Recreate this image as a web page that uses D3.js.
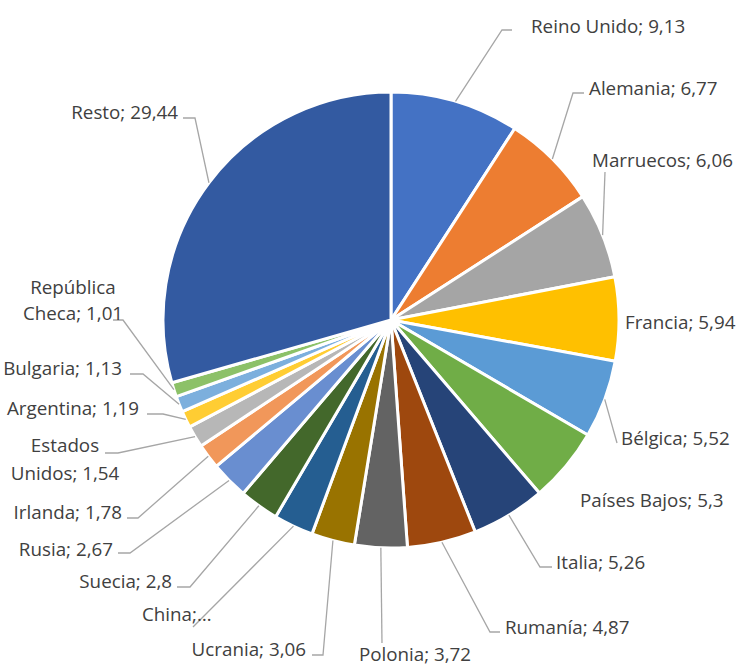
<!DOCTYPE html>
<html>
<head>
<meta charset="utf-8">
<script src="https://cdn.jsdelivr.net/npm/d3@7"></script>
<style>
  html, body { margin: 0; padding: 0; background: #fff; }
  svg { display: block; }
  text { font-family: "Open Sans", "Noto Sans", sans-serif; font-size: 18.8px; fill: #404040; }
</style>
</head>
<body>
<svg id="chart" width="739" height="668"></svg>
<script>
// ---- data ----
const categories = ["Reino Unido", "Alemania", "Marruecos", "Francia", "Bélgica", "Países Bajos",
  "Italia", "Rumanía", "Polonia", "Ucrania", "China", "Suecia", "Rusia", "Irlanda",
  "Estados Unidos", "Argentina", "Bulgaria", "República Checa", "Resto"];
const values = [9.13, 6.77, 6.06, 5.94, 5.52, 5.3, 5.26, 4.87, 3.72, 3.06, 2.81, 2.8, 2.67, 1.78,
  1.54, 1.19, 1.13, 1.01, 29.44];
const labelLines = [
  ["Reino Unido; 9,13"], ["Alemania; 6,77"], ["Marruecos; 6,06"], ["Francia; 5,94"],
  ["Bélgica; 5,52"], ["Países Bajos; 5,3"], ["Italia; 5,26"], ["Rumanía; 4,87"],
  ["Polonia; 3,72"], ["Ucrania; 3,06"], ["China;…"], ["Suecia; 2,8"], ["Rusia; 2,67"],
  ["Irlanda; 1,78"], ["Estados", "Unidos; 1,54"], ["Argentina; 1,19"], ["Bulgaria; 1,13"],
  ["República", "Checa; 1,01"], ["Resto; 29,44"]];
const colors = ["#4472C4", "#ED7D31", "#A5A5A5", "#FFC000", "#5B9BD5", "#70AD47", "#264478",
  "#9E480E", "#636363", "#997300", "#255E91", "#43682B", "#698ED0", "#F1975A", "#B7B7B7",
  "#FFCD33", "#7CAFDD", "#8CC168", "#335AA1"];

// ---- layout (label placement, Excel-style) ----
// [anchor, x, yCenters, elbow or null, horizontal-end x or null]
const labelLayout = [
  ["start", 531, [26], [502, 30], 512],
  ["start", 589, [88], [573, 93], 584],
  ["start", 592, [160], [605, 172], null],
  ["start", 625, [322], null, null],
  ["start", 621, [438], [617, 443], null],
  ["start", 580, [500], null, null],
  ["start", 556, [562], [540, 567], 552],
  ["start", 505, [627], [490, 632], 500],
  ["middle", 415, [654], [382, 643], null],
  ["end", 306, [649], [323, 655], 312],
  ["start", 142, [614], [193, 627], null],
  ["end", 172, [581], [190, 587], 177],
  ["end", 113, [549], [130, 553], 118],
  ["end", 122, [512], [138, 518], 127],
  ["middle", 65, [445, 473], [118, 453], 105],
  ["end", 139, [408], [163, 414], 147],
  ["end", 122, [368], [143, 374], 130],
  ["middle", 73, [287, 313], [123, 320], 113],
  ["end", 178, [112], [195, 118], 183]
];

const cx = 391, cy = 320, R = 228;
const svg = d3.select("#chart");
const g = svg.append("g").attr("transform", `translate(${cx},${cy})`);

const data = categories.map((c, i) => ({ name: c, value: values[i], i }));
const pie = d3.pie().value(d => d.value).sort(null);
const arcs = pie(data);
const arc = d3.arc().innerRadius(0).outerRadius(R);

g.selectAll("path.slice").data(arcs).join("path")
  .attr("class", "slice")
  .attr("d", arc)
  .attr("fill", d => colors[d.data.i])
  .attr("stroke", "#fff")
  .attr("stroke-width", 3)
  .attr("stroke-linejoin", "round");

// leader lines
const lead = svg.append("g");
arcs.forEach(d => {
  const L = labelLayout[d.data.i];
  if (!L[3]) return;
  const mid = (d.startAngle + d.endAngle) / 2;
  const p0 = [cx + R * Math.sin(mid), cy - R * Math.cos(mid)];
  const pts = [p0, L[3]];
  if (L[4] !== null) pts.push([L[4], L[3][1]]);
  lead.append("path")
    .attr("d", d3.line()(pts))
    .attr("fill", "none")
    .attr("stroke", "#A6A6A6")
    .attr("stroke-width", 1.3);
});

// labels
const lab = svg.append("g");
data.forEach(d => {
  const L = labelLayout[d.i];
  labelLines[d.i].forEach((t, k) => {
    lab.append("text")
      .attr("x", L[1])
      .attr("y", L[2][k])
      .attr("text-anchor", L[0])
      .attr("dominant-baseline", "central")
      .text(t);
  });
});
</script>
</body>
</html>
